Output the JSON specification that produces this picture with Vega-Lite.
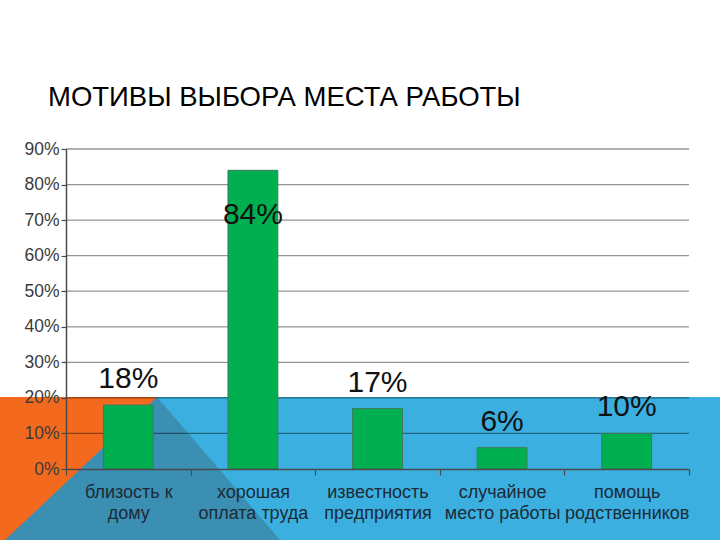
{
  "$schema": "https://vega.github.io/schema/vega-lite/v6.json",
  "width": 623,
  "height": 320,
  "autosize": {"type": "none"},
  "padding": {"left": 66, "top": 149, "right": 31, "bottom": 71},
  "background": "white",
  "config": {"view": {"stroke": null}, "font": "Liberation Sans"},
  "title": {
    "text": "МОТИВЫ ВЫБОРА МЕСТА РАБОТЫ",
    "anchor": "start",
    "frame": "group",
    "dx": -18,
    "offset": 7,
    "baseline": "alphabetic",
    "fontSize": 27.5,
    "fontWeight": "normal",
    "font": "Liberation Sans",
    "color": "#000000"
  },
  "datasets": {
    "motives": [
      {"motive": "близость к\nдому", "share": 0.18},
      {"motive": "хорошая\nоплата труда", "share": 0.84},
      {"motive": "известность\nпредприятия", "share": 0.17},
      {"motive": "случайное\nместо работы", "share": 0.06},
      {"motive": "помощь\nродственников", "share": 0.10}
    ],
    "gridlines": [
      {"level": 0.1}, {"level": 0.2}, {"level": 0.3}, {"level": 0.4}, {"level": 0.5},
      {"level": 0.6}, {"level": 0.7}, {"level": 0.8}, {"level": 0.9}
    ],
    "slideShapes": [
      {"shape": "band", "left": 0, "right": 720, "top": 397, "bottom": 540},
      {"shape": "corner", "left": 0, "right": 157, "top": 397, "bottom": 540}
    ],
    "slideWedge": [
      {"px": 5, "py": 540},
      {"px": 157, "py": 397},
      {"px": 280, "py": 540}
    ]
  },
  "layer": [
    {
      "layer": [
        {
          "data": {"name": "slideShapes"},
          "mark": {"type": "rect"},
          "encoding": {
            "x": {"field": "left", "type": "quantitative", "scale": {"domain": [66, 689], "nice": false, "zero": false}, "axis": null},
            "x2": {"field": "right"},
            "y": {"field": "top", "type": "quantitative", "scale": {"domain": [149, 469], "reverse": true, "nice": false, "zero": false}, "axis": null},
            "y2": {"field": "bottom"},
            "color": {"field": "shape", "type": "nominal", "scale": {"domain": ["band", "corner"], "range": ["#3bb0e0", "#f36a1e"]}, "legend": null}
          }
        },
        {
          "data": {"name": "slideWedge"},
          "mark": {"type": "area", "color": "#3a8fb3", "interpolate": "linear", "orient": "vertical"},
          "encoding": {
            "x": {"field": "px", "type": "quantitative"},
            "y": {"field": "py", "type": "quantitative", "stack": null},
            "y2": {"datum": 540}
          }
        }
      ]
    },
    {
      "layer": [
        {
          "data": {"name": "gridlines"},
          "mark": {"type": "rule", "color": "#000000", "opacity": 0.42, "strokeWidth": 1.3},
          "encoding": {
            "y": {
              "field": "level", "type": "quantitative",
              "scale": {"domain": [0, 0.9], "nice": false},
              "axis": {
                "orient": "left",
                "title": null,
                "values": [0, 0.1, 0.2, 0.3, 0.4, 0.5, 0.6, 0.7, 0.8, 0.9],
                "tickCount": 10,
                "format": ".0%",
                "labelOverlap": false,
                "labelFontSize": 17.5,
                "labelColor": "#3a3a3a",
                "tickSize": 5,
                "labelPadding": 2,
                "domainColor": "#4a4a4a",
                "tickColor": "#4a4a4a",
                "domainWidth": 1.5,
                "tickWidth": 1.2,
                "grid": false,
                "zindex": 1
              }
            }
          }
        },
        {
          "data": {"name": "motives"},
          "mark": {"type": "bar", "color": "#00b050", "stroke": "#3f7a5a", "strokeWidth": 1, "width": {"band": 0.4}},
          "encoding": {
            "x": {
              "field": "motive", "type": "nominal", "sort": null,
              "scale": {"paddingInner": 0, "paddingOuter": 0},
              "axis": {
                "orient": "bottom",
                "title": null,
                "labelExpr": "split(datum.label, '\\n')",
                "tickBand": "extent",
                "labelAngle": 0,
                "labelFontSize": 18,
                "labelColor": "#1d2a35",
                "labelLineHeight": 21,
                "labelPadding": 8,
                "tickSize": 6,
                "domainColor": "#4a4a4a",
                "tickColor": "#4a4a4a",
                "domainWidth": 1.5,
                "tickWidth": 1.2,
                "zindex": 1
              }
            },
            "y": {
              "field": "share", "type": "quantitative",
              "scale": {"domain": [0, 0.9], "nice": false},
              "axis": {
                "orient": "left",
                "title": null,
                "values": [0, 0.1, 0.2, 0.3, 0.4, 0.5, 0.6, 0.7, 0.8, 0.9],
                "tickCount": 10,
                "format": ".0%",
                "labelOverlap": false,
                "labelFontSize": 17.5,
                "labelColor": "#3a3a3a",
                "tickSize": 5,
                "labelPadding": 2,
                "domainColor": "#4a4a4a",
                "tickColor": "#4a4a4a",
                "domainWidth": 1.5,
                "tickWidth": 1.2,
                "grid": false,
                "zindex": 1
              }
            }
          }
        },
        {
          "data": {"name": "motives"},
          "transform": [{"filter": "datum.share < 0.5"}],
          "mark": {"type": "text", "baseline": "alphabetic", "dy": -17, "fontSize": 30, "color": "#111111"},
          "encoding": {
            "x": {"field": "motive", "type": "nominal", "sort": null},
            "y": {"field": "share", "type": "quantitative"},
            "text": {"field": "share", "type": "quantitative", "format": ".0%"}
          }
        },
        {
          "data": {"name": "motives"},
          "transform": [{"filter": "datum.share >= 0.5"}],
          "mark": {"type": "text", "baseline": "alphabetic", "dy": 54, "fontSize": 30, "color": "#111111"},
          "encoding": {
            "x": {"field": "motive", "type": "nominal", "sort": null},
            "y": {"field": "share", "type": "quantitative"},
            "text": {"field": "share", "type": "quantitative", "format": ".0%"}
          }
        }
      ]
    }
  ],
  "resolve": {
    "scale": {"x": "independent", "y": "independent", "color": "independent"},
    "axis": {"x": "independent", "y": "independent"}
  }
}
